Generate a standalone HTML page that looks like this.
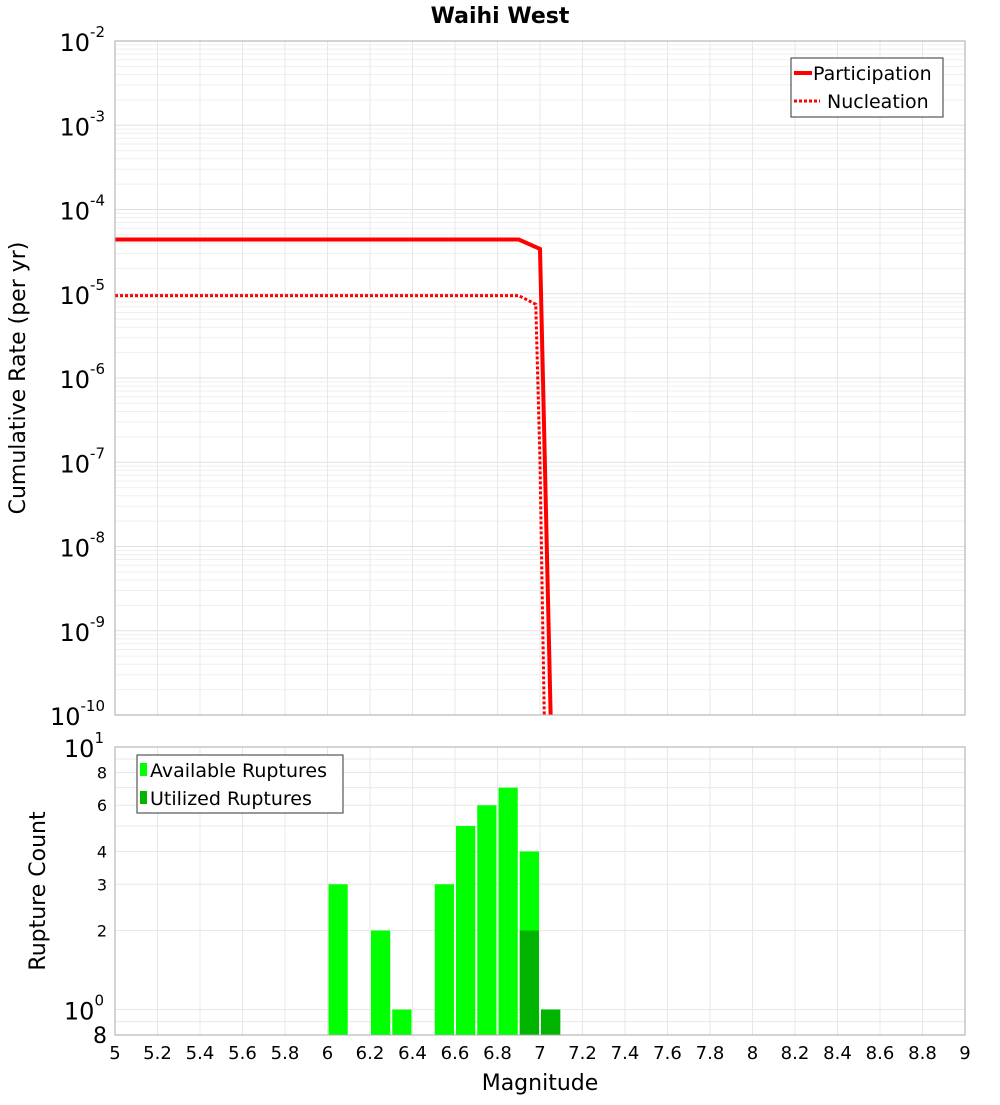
<!DOCTYPE html>
<html><head><meta charset="utf-8"><style>
body{margin:0;background:#fff;font-family:"Liberation Sans","DejaVu Sans",sans-serif}
svg text{font-family:"DejaVu Sans","Liberation Sans",sans-serif}
</style></head><body>
<svg id="c" width="1000" height="1100" xmlns="http://www.w3.org/2000/svg">
<rect width="1000" height="1100" fill="#fff"/>
<text x="500" y="23" text-anchor="middle" font-size="22" font-weight="bold">Waihi West</text>
<text transform="translate(25,378) rotate(-90)" text-anchor="middle" font-size="22">Cumulative Rate (per yr)</text>
<text transform="translate(45,891) rotate(-90)" text-anchor="middle" font-size="22">Rupture Count</text>
<text x="540" y="1090" text-anchor="middle" font-size="22">Magnitude</text>
<g id="topg"></g><g id="botg"></g>
</svg>
<script>
const partMags=[5,6.9,7.0,7.05];
const partRates=[4.4e-5,4.4e-5,3.4e-5,1e-10];
const nuclMags=[5,6.9,6.98,7.0,7.02];
const nuclRates=[9.5e-6,9.5e-6,7.5e-6,1e-7,1e-10];
const binMags=[6.05,6.25,6.35,6.55,6.65,6.75,6.85,6.95,7.05];
const availCounts=[3,2,1,3,5,6,7,4,1];
const usedCounts=[0,0,0,0,0,0,0,2,1];
const xTicks=[5,5.2,5.4,5.6,5.8,6,6.2,6.4,6.6,6.8,7,7.2,7.4,7.6,7.8,8,8.2,8.4,8.6,8.8,9];

const NS="http://www.w3.org/2000/svg";
const svg=document.getElementById('c');
const X0=115,X1=965;
const xs=m=>X0+(m-5)/4*(X1-X0);
const T0=41,T1=715; const yt=v=>T0+(-2-Math.log10(v))/8*(T1-T0);
const B0=747,B1=1035; const yb=v=>B0+(1-Math.log10(v))/(1-Math.log10(0.8))*(B1-B0);
function el(tag,attrs,parent){const e=document.createElementNS(NS,tag);for(const k in attrs)e.setAttribute(k,attrs[k]);(parent||svg).appendChild(e);return e;}
const topG=document.getElementById('topg'),botG=document.getElementById('botg');

for(let d=-10;d<-2;d++)for(let k=1;k<10;k++){const y=yt(k*Math.pow(10,d));
 const l=el('line',{x1:X0,x2:X1,y1:y,y2:y,stroke:k==1?'#e0e0e0':'#efefef','stroke-width':1},topG);
 
 }
xTicks.forEach(m=>{const l=el('line',{x1:xs(m),x2:xs(m),y1:T0,y2:T1,stroke:'#e8e8e8'},topG);
 
 
 const l2=el('line',{x1:xs(m),x2:xs(m),y1:B0,y2:B1,stroke:'#e8e8e8'},botG);
 
 });
[0.8,0.9,1,2,3,4,5,6,7,8,9,10].forEach(v=>{const l=el('line',{x1:X0,x2:X1,y1:yb(v),y2:yb(v),stroke:'#e8e8e8'},botG);
 
 });

for(let d=-10;d<=-2;d++){const y=yt(Math.pow(10,d));
 const t=el('text',{x:105,y:y+10,'text-anchor':'end','font-size':24},topG);
 
 
 t.textContent='10';
 const s=el('tspan',{dy:-14,'font-size':15},t);s.textContent=String(d);}
function path(ms,vs){return ms.map((m,i)=>(i?'L':'M')+xs(m)+','+yt(vs[i])).join(' ');}
const pl=el('path',{d:path(partMags,partRates),fill:'none',stroke:'#f00','stroke-width':4},topG);


const nl=el('path',{d:path(nuclMags,nuclRates),fill:'none',stroke:'#f00','stroke-width':3,'stroke-dasharray':'3,2'},topG);


el('rect',{x:X0,y:T0,width:X1-X0,height:T1-T0,fill:'none',stroke:'#aaa'},topG);

const bw=(xs(0.1)-xs(0))-2;
binMags.forEach((m,i)=>{
 const x=xs(m)-bw/2;
 const r=el('rect',{x:x,y:yb(availCounts[i]),width:bw,height:B1-yb(availCounts[i]),fill:'#00ff00'},botG);
 
 
 if(usedCounts[i]>0){const u=el('rect',{x:x,y:yb(usedCounts[i]),width:bw,height:B1-yb(usedCounts[i]),fill:'#00b400'},botG);
 
 }
});
el('rect',{x:X0,y:B0,width:X1-X0,height:B1-B0,fill:'none',stroke:'#aaa'},botG);
[8,6,4,3,2].forEach(v=>{const t=el('text',{x:107,y:yb(v)+6,'text-anchor':'end','font-size':16},botG);
 
 t.textContent=v;});
[[10,'1'],[1,'0']].forEach(([v,e])=>{const t=el('text',{x:104,y:yb(v)+10,'text-anchor':'end','font-size':24},botG);
 
 t.textContent='10';
 const s=el('tspan',{dy:-14,'font-size':15},t);s.textContent=e;});
const t8=el('text',{x:107,y:B1+8,'text-anchor':'end','font-size':22},botG);

t8.textContent='8';
xTicks.forEach(m=>{const t=el('text',{x:xs(m),y:1059,'text-anchor':'middle','font-size':18},botG);
 
 t.textContent=String(m);});
</script>
<svg style="position:absolute;left:0;top:0" width="1000" height="1100">
<g>
<rect x="791" y="58" width="152" height="59" fill="#fff" stroke="#333"/>
<line x1="794" y1="73" x2="812" y2="73" stroke="#f00" stroke-width="4"/>
<text x="813" y="80" font-size="19" font-family="DejaVu Sans,sans-serif">Participation</text>
<line x1="794" y1="101" x2="820" y2="101" stroke="#f00" stroke-width="3" stroke-dasharray="3,2"/>
<text x="827" y="108" font-size="19" font-family="DejaVu Sans,sans-serif">Nucleation</text>
</g>
<g>
<rect x="137" y="755" width="206" height="58" fill="#fff" stroke="#333"/>
<rect x="140" y="763" width="7" height="13" fill="#00ff00"/>
<text x="150" y="777" font-size="19" font-family="DejaVu Sans,sans-serif">Available Ruptures</text>
<rect x="140" y="791" width="7" height="13" fill="#00b400"/>
<text x="150" y="805" font-size="19" font-family="DejaVu Sans,sans-serif">Utilized Ruptures</text>
</g>
</svg>
</body></html>
